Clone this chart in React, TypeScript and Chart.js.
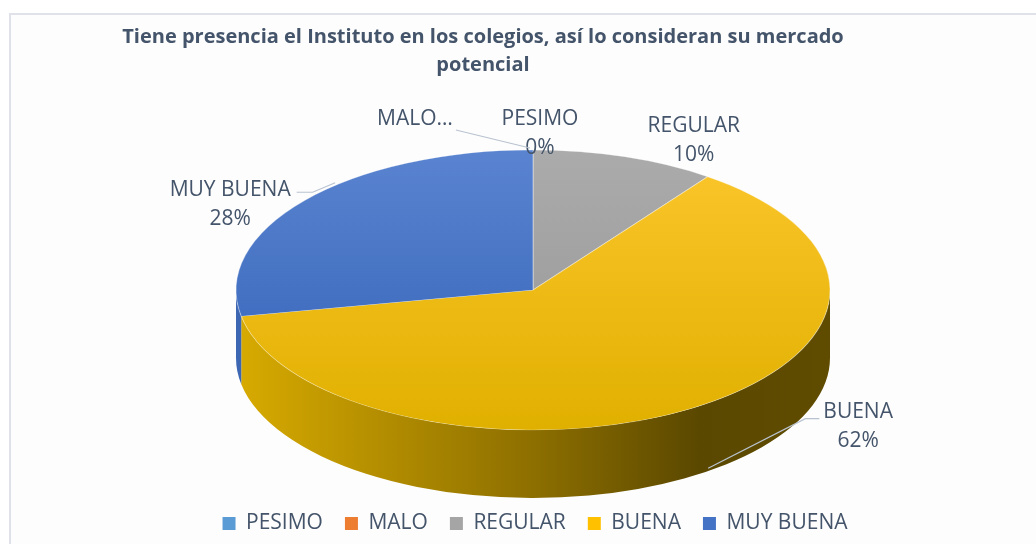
import React, { useEffect, useRef } from "react";
import { Chart, registerables } from "chart.js";

Chart.register(...registerables);

// ---------- data ----------
const TITLE_LINES = [
  "Tiene presencia el Instituto en los colegios, así lo consideran su mercado",
  "potencial",
];
const CATEGORIES = ["PESIMO", "MALO", "REGULAR", "BUENA", "MUY BUENA"];
const VALUES = [0, 0, 10, 62, 28];
const DATA_LABEL_TEXT = ["PESIMO", "MALO…", "REGULAR", "BUENA", "MUY BUENA"];
const SHOW_PERCENT = [true, false, true, true, true];

// ---------- styles ----------
const FONT = "'Open Sans', Lato, sans-serif";
const TEXT_COLOR = "#44546a";
const LEADER_COLOR = "#b9c3d0";
const LEGEND_COLORS = ["#5b9bd5", "#ed7d31", "#a5a5a5", "#ffc000", "#4472c4"];
const TOP_GRADIENTS = [
  ["#6aa5dc", "#4f8fcb"],
  ["#f08a45", "#e06f20"],
  ["#ababab", "#959595"],
  ["#fcc62c", "#e0b000"],
  ["#5a84d0", "#3160b6"],
];
const SIDE_GRADIENTS: [number, string][][] = [
  [[0, "#4f8fcb"], [1, "#2a5a88"]],
  [[0, "#e06f20"], [1, "#8a4010"]],
  [[0, "#8e8e8e"], [1, "#555555"]],
  [[0, "#d8ab00"], [0.5, "#8d6f00"], [0.78, "#5b4800"], [1, "#604c00"]],
  [[0, "#3d67b3"], [0.5, "#2a4d8f"], [1, "#1c3566"]],
];
const PIE = { cx: 533, cy: 290, rx: 297, ry: 140, depth: 68 };
const TITLE_POS = { x: 483, y: 37, lineHeight: 28, size: 20 };
const LABEL_SIZE = 21;
const LEGEND_SIZE = 21;
const LABEL_LINE_HEIGHT = 29;
type Leader = { side: "left" | "right"; sx: number; sy: number; elbow: number; ex: number; ey: number } | null;
const LABEL_LAYOUT: { dx: number; dy: number; leader: Leader }[] = [
  { dx: 7, dy: -16, leader: null },
  { dx: -118, dy: -31, leader: { side: "right", sx: 3, sy: 11, elbow: 0, ex: -3, ey: -2 } },
  { dx: 69, dy: -16, leader: null },
  { dx: 166, dy: 18, leader: { side: "left", sx: -4, sy: 7, elbow: -14, ex: 16, ey: 60 } },
  { dx: -74, dy: 4, leader: { side: "right", sx: 6, sy: 2, elbow: 16, ex: 31, ey: -18 } },
];

function arcProps(arc: any) {
  return arc.getProps(["startAngle", "endAngle", "x", "y", "outerRadius"], true);
}

const pie3dPlugin = {
  id: "pie3d",
  beforeDatasetsDraw(chart: any) {
    const ctx = chart.ctx as CanvasRenderingContext2D;
    const meta = chart.getDatasetMeta(0);
    const { cx, cy, rx, ry, depth } = PIE;
    ctx.save();
    // extruded side (front half only)
    meta.data.forEach((arc: any, i: number) => {
      const { startAngle, endAngle } = arcProps(arc);
      if (endAngle - startAngle <= 0) return;
      const ranges = [[0, Math.PI], [2 * Math.PI, 3 * Math.PI]];
      ranges.forEach(([lo, hi]) => {
        const a1 = Math.max(startAngle, lo);
        const a2 = Math.min(endAngle, hi);
        if (a2 <= a1) return;
        const g = ctx.createLinearGradient(cx - rx, 0, cx + rx, 0);
        SIDE_GRADIENTS[i].forEach(([pos, c]) => g.addColorStop(pos, c));
        ctx.beginPath();
        ctx.ellipse(cx, cy, rx, ry, 0, a1, a2, false);
        ctx.ellipse(cx, cy + depth, rx, ry, 0, a2, a1, true);
        ctx.closePath();
        ctx.fillStyle = g;
        ctx.fill();
      });
    });
    // map library's circle to the top ellipse
    const { x, y, outerRadius } = arcProps(meta.data[0]);
    ctx.translate(cx, cy);
    ctx.scale(rx / outerRadius, ry / outerRadius);
    ctx.translate(-x, -y);
  },
  afterDatasetsDraw(chart: any) {
    chart.ctx.restore();
  },
  afterDraw(chart: any) {
    const ctx = chart.ctx as CanvasRenderingContext2D;
    const meta = chart.getDatasetMeta(0);
    const { cx, cy, rx, ry } = PIE;
    const total = VALUES.reduce((a, b) => a + b, 0);
    ctx.save();
    // title
    ctx.fillStyle = TEXT_COLOR;
    ctx.textAlign = "center";
    ctx.textBaseline = "middle";
    ctx.font = `bold ${TITLE_POS.size}px ${FONT}`;
    TITLE_LINES.forEach((t, k) => ctx.fillText(t, TITLE_POS.x, TITLE_POS.y + k * TITLE_POS.lineHeight));
    // data labels
    ctx.font = `${LABEL_SIZE}px ${FONT}`;
    meta.data.forEach((arc: any, i: number) => {
      const { startAngle, endAngle } = arcProps(arc);
      const m = (startAngle + endAngle) / 2;
      const px = cx + rx * Math.cos(m);
      const py = cy + ry * Math.sin(m);
      const lay = LABEL_LAYOUT[i];
      const pct = Math.round((VALUES[i] / total) * 100) + "%";
      const lines = SHOW_PERCENT[i] ? [DATA_LABEL_TEXT[i], pct] : [DATA_LABEL_TEXT[i]];
      const bx = px + lay.dx;
      const by = py + lay.dy;
      const firstY = by - ((lines.length - 1) / 2) * LABEL_LINE_HEIGHT;
      ctx.fillStyle = TEXT_COLOR;
      lines.forEach((t, k) => ctx.fillText(t, bx, firstY + k * LABEL_LINE_HEIGHT));
      if (lay.leader) {
        const L = lay.leader;
        const w = ctx.measureText(lines[0]).width;
        const sx = (L.side === "right" ? bx + w / 2 : bx - w / 2) + L.sx;
        const sy = firstY + L.sy;
        ctx.beginPath();
        ctx.moveTo(sx, sy);
        if (L.elbow) ctx.lineTo(sx + L.elbow, sy);
        ctx.lineTo(px + L.ex, py + L.ey);
        ctx.strokeStyle = LEADER_COLOR;
        ctx.lineWidth = 1.2;
        ctx.stroke();
      }
    });
    ctx.restore();
  },
};

export default function App() {
  const ref = useRef<HTMLCanvasElement>(null);
  useEffect(() => {
    Chart.defaults.font.family = FONT;
    const chart = new Chart(ref.current!, {
      type: "pie",
      data: {
        labels: CATEGORIES,
        datasets: [
          {
            data: VALUES,
            backgroundColor: (c: any) => {
              const chart = c.chart;
              const area = chart.chartArea;
              const i = c.dataIndex ?? 0;
              if (!area) return LEGEND_COLORS[i];
              const g = chart.ctx.createLinearGradient(0, area.top, 0, area.bottom);
              g.addColorStop(0, TOP_GRADIENTS[i][0]);
              g.addColorStop(1, TOP_GRADIENTS[i][1]);
              return g;
            },
            borderColor: "rgba(255,255,255,0.35)",
            borderWidth: 1,
            clip: false,
          } as any,
        ],
      },
      options: {
        responsive: false,
        animation: false,
        layout: { padding: { left: 34, right: 0, top: 0, bottom: 0 } },
        plugins: {
          title: { display: false },
          tooltip: { enabled: false },
          legend: {
            position: "bottom",
            labels: {
              boxWidth: 13,
              boxHeight: 13,
              padding: 22,
              color: TEXT_COLOR,
              font: { size: LEGEND_SIZE, family: FONT },
              generateLabels: () =>
                CATEGORIES.map((c, i) => ({
                  text: c,
                  fillStyle: LEGEND_COLORS[i],
                  strokeStyle: LEGEND_COLORS[i],
                  lineWidth: 0,
                  hidden: false,
                  index: i,
                  fontColor: TEXT_COLOR,
                })),
            },
          },
        },
      },
      plugins: [pie3dPlugin],
    });
    return () => chart.destroy();
  }, []);
  return (
    <div style={{ position: "fixed", left: 0, top: 0, width: 1036, height: 544, background: "#ffffff", overflow: "hidden" }}>
      <div
        style={{
          position: "absolute",
          left: 9,
          top: 13,
          width: 1100,
          height: 600,
          borderTop: "2px solid #dfe3e9",
          borderLeft: "2px solid #dfe3e9",
          background: "#fdfdfd",
        }}
      />
      <canvas ref={ref} width={1036} height={544} style={{ position: "absolute", left: 0, top: 0, width: 1036, height: 544 }} />
    </div>
  );
}
